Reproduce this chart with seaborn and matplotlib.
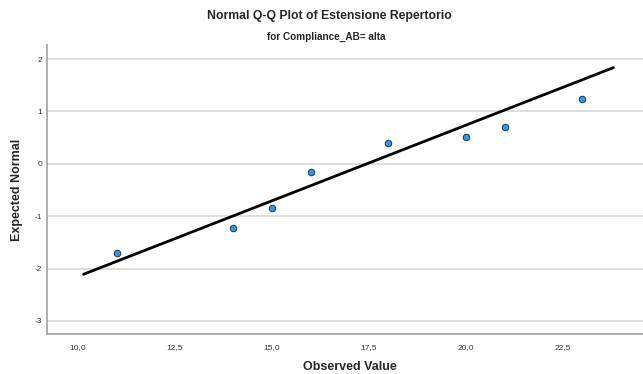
import matplotlib
matplotlib.use("Agg")
import matplotlib.pyplot as plt
import matplotlib.ticker as mticker
import numpy as np
import pandas as pd
import seaborn as sns

observed = [11, 14, 15, 16, 18, 20, 21, 23]
expected = [-1.71, -1.22, -0.85, -0.16, 0.40, 0.52, 0.71, 1.23]

# reference line: expected = (x - mean) / sd
line_mean = 17.44
line_sd = 3.46
line_x = [10.14, 23.80]

y_ticks = [-3, -2, -1, 0, 1, 2]
x_ticks = [10.0, 12.5, 15.0, 17.5, 20.0, 22.5]

sns.set_theme(style="white")
plt.rcParams['font.family'] = ['Liberation Sans', 'DejaVu Sans']

points = pd.DataFrame({'observed': observed, 'expected': expected})
line = pd.DataFrame({'x': line_x,
                     'y': [(v - line_mean) / line_sd for v in line_x]})

fig = plt.figure(figsize=(6.43, 3.74), dpi=100)
ax = fig.add_axes([0.0731, 0.107, 0.9269, 0.7727])

for t in y_ticks:
    ax.axhline(t, color='#d4d4d4', linewidth=1.1, zorder=0)

sns.lineplot(data=line, x='x', y='y', ax=ax, color='black', linewidth=2.0,
             zorder=3)
sns.scatterplot(data=points, x='observed', y='expected', ax=ax,
                color='#3398dd', edgecolor='#1a3550', linewidth=0.7, s=22,
                zorder=4)

ax.set_xlim(9.2, 24.56)
ax.set_ylim(-3.25, 2.27)
ax.set_xticks(x_ticks)
ax.set_yticks(y_ticks)
ax.xaxis.set_major_formatter(mticker.FuncFormatter(
    lambda v, p: f"{v:.1f}".replace('.', ',')))
ax.yaxis.set_major_formatter(mticker.FuncFormatter(lambda v, p: f"{v:.0f}"))
ax.tick_params(axis='both', length=0, labelsize=6, colors='#333333')
ax.tick_params(axis='x', pad=7)
ax.tick_params(axis='y', pad=3.5)

for side in ['top', 'right']:
    ax.spines[side].set_visible(False)
for side in ['left', 'bottom']:
    ax.spines[side].set_color('#a8a8a8')
    ax.spines[side].set_linewidth(1.3)

ax.set_xlabel('Observed Value', fontsize=9, fontweight='bold')
ax.set_ylabel('Expected Normal', fontsize=9, fontweight='bold')
ax.xaxis.set_label_coords(0.508, -0.093)
ax.yaxis.set_label_coords(-0.040, 0.5)

fig.text(0.513, 0.957, 'Normal Q-Q Plot of Estensione Repertorio',
         ha='center', va='center', fontsize=8.8, fontweight='bold')
fig.text(0.507, 0.901, 'for Compliance_AB= alta',
         ha='center', va='center', fontsize=7.2, fontweight='bold')

fig.savefig('out.png', dpi=100)
